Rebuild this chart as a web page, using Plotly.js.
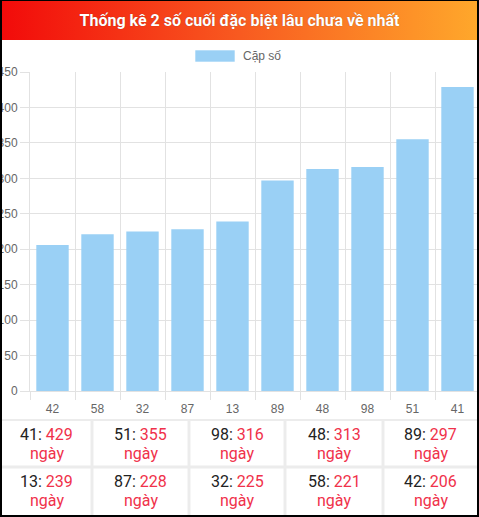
<!DOCTYPE html>
<html>
<head>
<meta charset="utf-8">
<script src="https://cdn.plot.ly/plotly-3.0.1.min.js"></script>
<style>
  html, body { margin: 0; padding: 0; background: #fff; overflow: hidden; }
  #wrap { position: relative; width: 479px; height: 517px; overflow: hidden; }
  #chart { position: absolute; left: 0; top: 0; }
  #header {
    position: absolute; left: 0; top: 0; width: 479px; height: 40px;
    background: linear-gradient(to right, #f20a0a, #f85a20 50%, #ffa82b);
    color: #fff; font-family: Roboto, "Noto Sans", sans-serif; font-weight: bold;
    font-size: 16px; text-align: center; line-height: 42px;
    text-shadow: 0 0 1px rgba(0,0,0,0.35);
  }
  #frame {
    position: absolute; left: 0; top: 0; width: 479px; height: 517px; box-sizing: border-box;
    border-top: 1px solid #000; border-left: 2px solid #000; border-right: 2px solid #000; border-bottom: 2px solid #000;
    pointer-events: none;
  }
</style>
</head>
<body>
<div id="wrap">
  <div id="chart"></div>
  <div id="header">Thống kê 2 số cuối đặc biệt lâu chưa về nhất</div>
  <div id="frame"></div>
</div>
<script>
// ---- data ----
const chartTitle = "Thống kê 2 số cuối đặc biệt lâu chưa về nhất";
const seriesName = "Cặp số";
const categories = ["42", "58", "32", "87", "13", "89", "48", "98", "51", "41"];
const values = [206, 221, 225, 228, 239, 297, 313, 316, 355, 429];
const unitLabel = "ngày";
const yTicks = [0, 50, 100, 150, 200, 250, 300, 350, 400, 450];

// ---- layout helpers (pixel -> paper) ----
const W = 480, H = 517;
const px = x => x / W;
const py = y => 1 - y / H;

const BAR = "#9AD0F5";
const GRID = "#e2e2e2";
const RED = "#f0314a";
const TICKFONT = { family: "Liberation Sans, Arial, sans-serif", size: 12, color: "#666" };

document.getElementById("header").textContent = chartTitle;

const trace = {
  type: "bar",
  x: categories,
  y: values,
  name: seriesName,
  marker: { color: BAR, line: { width: 0 } },
  hoverinfo: "x+y",
  showlegend: false
};

const shapes = [];
const annotations = [];

// legend (wide chart.js-style box)
shapes.push({ type: "rect", xref: "paper", yref: "paper",
  x0: px(195), x1: px(235), y0: py(50), y1: py(62),
  fillcolor: BAR, line: { width: 1, color: "rgba(255,255,255,0.6)" } });
annotations.push({ xref: "paper", yref: "paper", x: px(241), y: py(56),
  xanchor: "left", yanchor: "middle", showarrow: false, text: seriesName,
  font: { family: "Liberation Sans, Arial, sans-serif", size: 12, color: "#666" } });

// table below chart: sorted descending (reverse of bar order)
const order = categories.map((c, i) => i).reverse();
const colEdges = [1, 92, 189, 285, 383, 478];
const rowEdges = [420, 467, 517];
const LINE = "#ececec";
shapes.push({ type: "line", xref: "paper", yref: "paper", x0: px(0), x1: px(479), y0: py(420), y1: py(420), line: { color: LINE, width: 2 } });
shapes.push({ type: "line", xref: "paper", yref: "paper", x0: px(0), x1: px(479), y0: py(467), y1: py(467), line: { color: LINE, width: 3 } });
for (let k = 1; k < colEdges.length - 1; k++) {
  shapes.push({ type: "line", xref: "paper", yref: "paper", x0: px(colEdges[k]), x1: px(colEdges[k]), y0: py(420), y1: py(517), line: { color: LINE, width: 3 } });
}
order.forEach((idx, n) => {
  const r = Math.floor(n / 5), c = n % 5;
  const cx = (colEdges[c] + colEdges[c + 1]) / 2;
  const top = rowEdges[r];
  annotations.push({ xref: "paper", yref: "paper", x: px(cx), y: py(top + 14),
    xanchor: "center", yanchor: "middle", showarrow: false,
    text: categories[idx] + ': <span style="color:' + RED + '">' + values[idx] + '</span>',
    font: { family: "Roboto, sans-serif", size: 16, color: "#222" } });
  annotations.push({ xref: "paper", yref: "paper", x: px(cx), y: py(top + 33),
    xanchor: "center", yanchor: "middle", showarrow: false,
    text: unitLabel, font: { family: "Roboto, sans-serif", size: 16, color: RED } });
});

const layout = {
  width: W, height: H,
  margin: { l: 0, r: 0, t: 0, b: 0, pad: 0 },
  paper_bgcolor: "#fff", plot_bgcolor: "#fff",
  bargap: 0.28,
  showlegend: false,
  xaxis: {
    domain: [px(30), 1],
    type: "category",
    tickson: "boundaries",
    ticks: "outside", ticklen: 8, tickcolor: GRID, tickwidth: 1,
    ticklabelstandoff: 7,
    showgrid: true, gridcolor: GRID, gridwidth: 1,
    showline: true, linecolor: GRID, linewidth: 1,
    tickfont: TICKFONT,
    fixedrange: true
  },
  yaxis: {
    domain: [py(391), py(72)],
    range: [0, 450],
    tickvals: yTicks,
    ticktext: yTicks.map(String),
    ticks: "outside", ticklen: 9, tickcolor: GRID, tickwidth: 1,
    showgrid: true, gridcolor: GRID, gridwidth: 1,
    zeroline: false,
    showline: true, linecolor: GRID, linewidth: 1,
    tickfont: TICKFONT,
    fixedrange: true
  },
  shapes: shapes,
  annotations: annotations
};

Plotly.newPlot("chart", [trace], layout, { displayModeBar: false, staticPlot: true });
</script>
</body>
</html>
